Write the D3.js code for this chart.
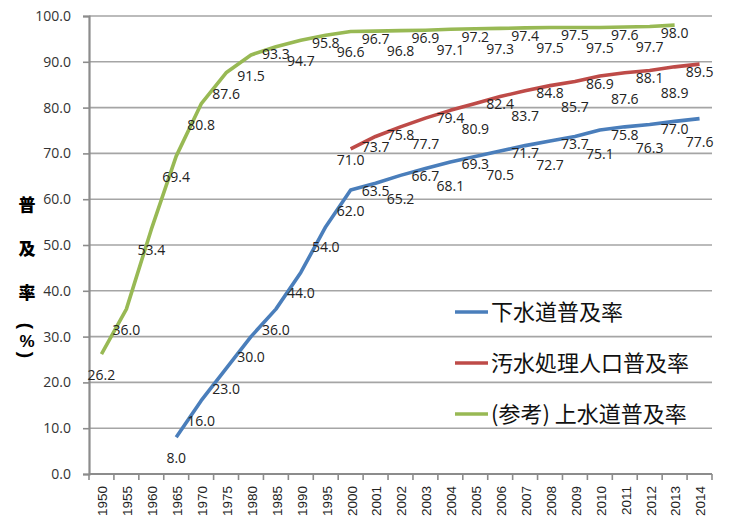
<!DOCTYPE html>
<html>
<head>
<meta charset="utf-8">
<script src="https://cdn.jsdelivr.net/npm/d3@7/dist/d3.min.js"></script>
<style>
  html, body { margin: 0; padding: 0; background: #fff; }
  svg { display: block; }
</style>
</head>
<body>
<svg id="chart" width="730" height="519"></svg>
<script>
// Survey years: every 5 years up to 2000, then yearly
const years = ["1950","1955","1960","1965","1970","1975","1980","1985","1990","1995","2000",
  "2001","2002","2003","2004","2005","2006","2007","2008","2009","2010","2011","2012","2013","2014"];

// 下水道普及率 (%)
const sewerRate = [null,null,null,8.0,16.0,23.0,30.0,36.0,44.0,54.0,62.0,
  63.5,65.2,66.7,68.1,69.3,70.5,71.7,72.7,73.7,75.1,75.8,76.3,77.0,77.6];

// 汚水処理人口普及率 (%)
const treatmentRate = [null,null,null,null,null,null,null,null,null,null,71.0,
  73.7,75.8,77.7,79.4,80.9,82.4,83.7,84.8,85.7,86.9,87.6,88.1,88.9,89.5];

// (参考) 上水道普及率 (%)
const waterRate = [26.2,36.0,53.4,69.4,80.8,87.6,91.5,93.3,94.7,95.8,96.6,
  96.7,96.8,96.9,97.1,97.2,97.3,97.4,97.5,97.5,97.5,97.6,97.7,98.0,null];

const yTicks = [0,10,20,30,40,50,60,70,80,90,100];

const seriesNames = ["下水道普及率", "汚水処理人口普及率", "(参考) 上水道普及率"];
const seriesColors = ["#4a7ebb", "#be4b48", "#98b954"];

const svg = d3.select("#chart");
const plot = { left: 89, right: 712, top: 16, bottom: 474 };

const x = d3.scaleBand().domain(years).range([plot.left, plot.right]);
const y = d3.scaleLinear().domain([0, 100]).range([plot.bottom, plot.top]);
const cx = d => x(d) + x.bandwidth() / 2;

// horizontal gridlines
svg.append("g")
  .selectAll("line")
  .data(yTicks.filter(t => t > 0))
  .join("line")
  .attr("x1", plot.left).attr("x2", plot.right)
  .attr("y1", d => y(d)).attr("y2", d => y(d))
  .attr("stroke", "#a5a5a5").attr("stroke-width", 1.6);

// y axis
const yAxis = svg.append("g")
  .attr("transform", `translate(${plot.left},0)`)
  .call(d3.axisLeft(y).tickValues(yTicks).tickFormat(d => d.toFixed(1)).tickSize(6).tickPadding(12));
yAxis.select(".domain").attr("stroke", "#8c8c8c").attr("stroke-width", 2.2);
yAxis.selectAll(".tick line").attr("stroke", "#8c8c8c").attr("stroke-width", 1.6);
yAxis.selectAll(".tick text")
  .attr("font-family", "'Open Sans', sans-serif").attr("font-size", 14).attr("fill", "#333");

// x axis: baseline, boundary ticks, rotated year labels
const xg = svg.append("g");
xg.append("line")
  .attr("x1", plot.left).attr("x2", plot.right)
  .attr("y1", y(0)).attr("y2", y(0))
  .attr("stroke", "#8c8c8c").attr("stroke-width", 2.2);
xg.selectAll("line.tk")
  .data(years.map(d => x(d)).concat([plot.right]))
  .join("line").attr("class", "tk")
  .attr("x1", d => d).attr("x2", d => d)
  .attr("y1", y(0)).attr("y2", y(0) + 6)
  .attr("stroke", "#8c8c8c").attr("stroke-width", 1.6);
xg.selectAll("text")
  .data(years)
  .join("text")
  .attr("transform", d => `translate(${cx(d) + 1},486) rotate(-90)`)
  .attr("text-anchor", "end")
  .attr("dy", "0.36em")
  .attr("font-family", "'Liberation Sans', Arial, sans-serif")
  .attr("font-size", 13.5)
  .attr("fill", "#222")
  .text(d => d);

// y axis title, stacked vertically: 普 / 及 / 率 / (%) with the brackets turned sideways
const titleG = svg.append("g")
  .attr("font-weight", 900)
  .attr("fill", "#000")
  .attr("text-anchor", "middle");
titleG.append("text")
  .attr("font-family", "'Noto Sans CJK JP', sans-serif")
  .attr("font-size", 17)
  .selectAll("tspan")
  .data([{ t: "普", y: 205 }, { t: "及", y: 249 }, { t: "率", y: 293 }])
  .join("tspan")
  .attr("x", 27)
  .attr("y", d => d.y + 6)
  .text(d => d.t);
titleG.append("text")
  .attr("x", 27).attr("y", 347)
  .attr("font-family", "'Liberation Sans', Arial, sans-serif")
  .attr("font-size", 17)
  .text("%");
titleG.selectAll("text.paren")
  .data([{ t: "(", y: 326 }, { t: ")", y: 355 }])
  .join("text").attr("class", "paren")
  .attr("transform", d => `translate(27,${d.y}) rotate(90)`)
  .attr("dy", "0.35em")
  .attr("font-family", "'Liberation Sans', Arial, sans-serif")
  .attr("font-size", 19)
  .text(d => d.t);

// lines
const allSeries = [sewerRate, treatmentRate, waterRate];
const line = d3.line()
  .defined(d => d.v != null)
  .x(d => cx(d.year))
  .y(d => y(d.v));

allSeries.forEach((vals, si) => {
  const pts = years.map((yr, i) => ({ year: yr, v: vals[i] }));
  svg.append("path")
    .datum(pts)
    .attr("d", line)
    .attr("fill", "none")
    .attr("stroke", seriesColors[si])
    .attr("stroke-width", 3.6)
    .attr("stroke-linejoin", "round");
});

// value labels: staggered above/below the line where points are dense
const UPPER = 9, LOWER = 25, BELOW = 22;
function labelDy(si, i) {
  if (si === 0) return i >= 11 ? (i % 2 === 1 ? UPPER : LOWER) : BELOW;       // 下水道
  if (si === 1) return i >= 12 ? (i % 2 === 0 ? UPPER : LOWER + 2) : UPPER + 3; // 汚水処理
  return i >= 7 ? (i % 2 === 1 ? UPPER : BELOW) : BELOW;                        // 上水道
}

allSeries.forEach((vals, si) => {
  const pts = years.map((yr, i) => ({ year: yr, v: vals[i], i })).filter(d => d.v != null);
  svg.append("g").selectAll("text")
    .data(pts)
    .join("text")
    .attr("x", d => cx(d.year))
    .attr("y", d => y(d.v) + labelDy(si, d.i))
    .attr("text-anchor", "middle")
    .attr("dominant-baseline", "middle")
    .attr("font-family", "'Open Sans', sans-serif")
    .attr("font-size", 14)
    .attr("fill", "#222")
    .text(d => d.v.toFixed(1));
});

// legend
const legend = svg.append("g");
const legendY = [312, 363, 414];
seriesNames.forEach((name, i) => {
  legend.append("line")
    .attr("x1", 455).attr("x2", 488)
    .attr("y1", legendY[i]).attr("y2", legendY[i])
    .attr("stroke", seriesColors[i]).attr("stroke-width", 3.5);
  legend.append("text")
    .attr("x", 491).attr("y", legendY[i])
    .attr("dy", "0.36em")
    .attr("font-family", "'Noto Sans CJK JP', sans-serif")
    .attr("font-size", 22)
    .attr("fill", "#111")
    .text(name);
});
</script>
</body>
</html>
